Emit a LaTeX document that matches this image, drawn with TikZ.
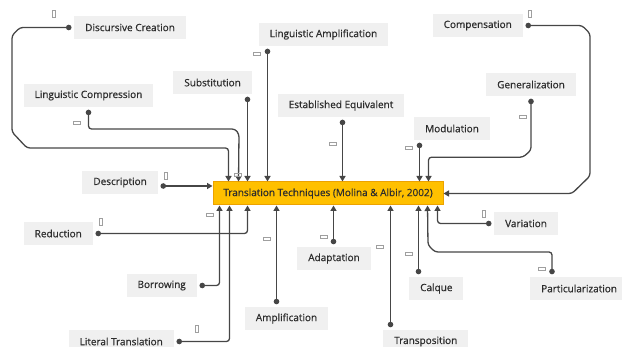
\documentclass[tikz,border=0pt]{standalone}
\usepackage{fontspec}
\newfontfamily\techfont{Open Sans}[FakeBold=0.7]
\usetikzlibrary{calc}
\usetikzlibrary{arrows.meta}

\definecolor{coreorange}{RGB}{255,192,0}
\definecolor{coreedge}{RGB}{236,162,0}
\definecolor{techgray}{RGB}{240,240,240}
\definecolor{techtext}{RGB}{45,45,45}
\definecolor{linkgray}{RGB}{70,70,70}

\tikzset{
  tech/.style={fill=techgray, text=techtext, inner xsep=11pt, inner ysep=0pt,
    minimum height=23pt, font=\techfont\fontsize{10}{12}\selectfont},
  core/.style={tech, fill=coreorange, draw=coreedge, line width=1pt,
    minimum width=230pt, inner xsep=0pt},
  link/.style={draw=linkgray, line width=1.3pt, rounded corners=3pt,
    {Circle[length=5.5pt]}-{Triangle[length=5.5pt,width=6pt]}, shorten <=2.5pt},
  tofuh/.style={draw=gray!75, line width=0.6pt, minimum width=7pt, minimum height=3.5pt, inner sep=0pt},
  tofuv/.style={draw=gray!75, line width=0.6pt, minimum width=3.5pt, minimum height=7pt, inner sep=0pt}
}

\begin{document}
\begin{tikzpicture}[x=1pt, y=-1pt]

\useasboundingbox (0,0) rectangle (622,347);

% central box
\node [core] (tt) at (328,193.5) {Translation Techniques (Molina \& Albir, 2002)};

% techniques above
\node [tech, anchor=west] (dc) at (74,27.5) {Discursive Creation};
\node [tech] (la) at (323.5,34.5) {Linguistic Amplification};
\node [tech, anchor=east] (sb) at (252,82.5) {Substitution};
\node [tech] (lc) at (88.5,95.5) {Linguistic Compression};
\node [tech] (ee) at (341,105.5) {Established Equivalent};
\node [tech, anchor=east] (cp) at (523,25.5) {Compensation};
\node [tech] (gn) at (531,84.5) {Generalization};
\node [tech, anchor=west] (md) at (414,128.5) {Modulation};
\node [tech, anchor=east] (ds) at (158,182.5) {Description};

% techniques below
\node [tech, anchor=east] (rd) at (93,233.5) {Reduction};
\node [tech, anchor=east] (bw) at (197,285.5) {Borrowing};
\node [tech, anchor=east] (lt) at (174,341.5) {Literal Translation};
\node [tech] (am) at (286.5,318.5) {Amplification};
\node [tech] (ad) at (334,258.5) {Adaptation};
\node [tech, anchor=west] (tp) at (383,341.5) {Transposition};
\node [tech, anchor=west] (cq) at (409,288.5) {Calque};
\node [tech, anchor=west] (vr) at (494,223.5) {Variation};
\node [tech, anchor=west] (pz) at (530,288.5) {Particularization};

% entry points on the central box
\coordinate (tdc) at ($(tt.north west)+(16,0)$);
\coordinate (tlc) at ($(tt.north west)+(26,0)$);
\coordinate (tsb) at ($(tt.north west)+(35,0)$);
\coordinate (tla) at ($(tt.north west)+(55,0)$);
\coordinate (tee) at ($(tt.north west)+(130,0)$);
\coordinate (tmd) at ($(tt.north west)+(207,0)$);
\coordinate (tgn) at ($(tt.north west)+(216,0)$);
\coordinate (tds) at ($(tt.west)+(0,-7.5)$);
\coordinate (bbw) at ($(tt.south west)+(7,0)$);
\coordinate (blt) at ($(tt.south west)+(17,0)$);
\coordinate (brd) at ($(tt.south west)+(35,0)$);
\coordinate (bam) at ($(tt.south west)+(64,0)$);
\coordinate (bad) at ($(tt.south west)+(121,0)$);
\coordinate (btp) at ($(tt.south west)+(178,0)$);
\coordinate (bcq) at ($(tt.south west)+(206,0)$);
\coordinate (bpz) at ($(tt.south west)+(215,0)$);
\coordinate (bvr) at ($(tt.south west)+(225,0)$);

% links from above
\draw [link] (dc.west) -- ++(-54,0) -- ++(-8,8) -- (12,132) -- (27,148) -| (tdc);
\draw [link] (lc.south) |- (235,129) -- (239,134) -- (tlc);
\draw [link] (sb.south -| tsb) -- (tsb);
\draw [link] (la.south -| tla) -- (tla);
\draw [link] (ee.south -| tee) -- (tee);
\draw [link] (md.south -| tmd) -- (tmd);
\draw [link] (gn.south) -- ++(0,54) -- ++(-8,7) -| (tgn);
\draw [link] (cp.east) -- ++(59,0) -- ++(8,8) -- (590,176) -- (572,193.5) -- (tt.east);
\draw [link] (ds.east |- tds) -- (tds);

% links from below
\draw [link] (rd.east) -| (brd);
\draw [link] (bw.east) -| (bbw);
\draw [link] (lt.east) -| (blt);
\draw [link] (am.north -| bam) -- (bam);
\draw [link] (ad.north -| bad) -- (bad);
\draw [link] (tp.north -| btp) -- (btp);
\draw [link] (cq.north -| bcq) -- (bcq);
\draw [link] ($(pz.north west)+(22,0)$) |- (435,252) -- (428,245) -- (bpz);
\draw [link] (vr.west) -| (bvr);

% glyph boxes
\node [tofuv] (gdc) at (54,14) {};
\node [tofuv] (gcp) at (530,14) {};
\node [tofuv] (gds) at (166,176) {};
\node [tofuv] (grd) at (101,222) {};
\node [tofuv] (glt) at (197,329) {};
\node [tofuv] (gvr) at (484,214) {};
\node [tofuh] (gla) at (257,54) {};
\node [tofuh] (glc) at (77,123) {};
\node [tofuh] (gsb) at (238,175) {};
\node [tofuh] (gee) at (333,144) {};
\node [tofuh] (gmd) at (409,148) {};
\node [tofuh] (ggn) at (523,117) {};
\node [tofuh] (gbw) at (210,215) {};
\node [tofuh] (gam) at (267,239) {};
\node [tofuh] (gad) at (324,237) {};
\node [tofuh] (gtp) at (380,247) {};
\node [tofuh] (gcq) at (409,254) {};
\node [tofuh] (gpz) at (542,269) {};

\end{tikzpicture}
\end{document}
